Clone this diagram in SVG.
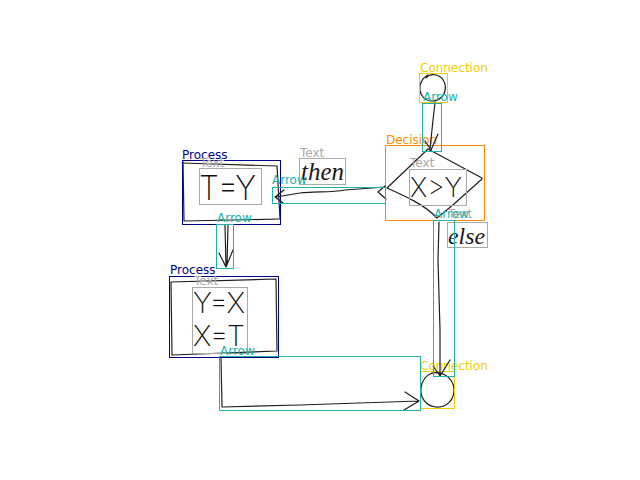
<svg xmlns="http://www.w3.org/2000/svg" width="640" height="480" viewBox="0 0 640 480">
  <style>
    .lbl { font-family: "DejaVu Sans", sans-serif; font-size: 12px; }
    .box { fill: none; stroke-width: 1; }
    .ink { fill: none; stroke: #1e1e1e; stroke-width: 1.2; stroke-linecap: round; stroke-linejoin: round; }
    .hand { font-family: "Inter", "DejaVu Sans", sans-serif; font-weight: 200; fill: #111; }
    .hand-i { font-family: "Liberation Serif", serif; font-style: italic; fill: #1a1a1a; }
    .proc { stroke: #000080; } .proc-t { fill: #000080; }
    .dec { stroke: #ff8c00; } .dec-t { fill: #ff8c00; }
    .con { stroke: #f2cd00; } .con-t { fill: #f2cd00; }
    .arr { stroke: #20b2aa; } .arr-t { fill: #20b2aa; }
    .txt { stroke: #a9a9a9; } .txt-t { fill: #a9a9a9; }
  </style>
  <rect width="640" height="480" fill="#ffffff"/>

  <!-- start connector circle -->
  <g id="connection-top">
    <path class="ink" d="M426,78 C431,72 442,74 445,84 C447,94 440,101 432,101 C424,101 419,94 420,86 C421,80 425,76 428,75"/>
    <rect class="box con" x="419.5" y="73.5" width="28" height="29"/>
    <text class="lbl con-t" x="420" y="72">Connection</text>
  </g>

  <!-- decision diamond -->
  <g id="decision">
    <path class="ink" d="M428,149 L482,178 M428,149 L387,188 M387,188 C405,196 425,205 437,218 M482,179 L454,204 L437,218"/>
    <rect class="box dec" x="385.5" y="145.5" width="99" height="75"/>
    <text class="lbl dec-t" x="386" y="144">Decision</text>
  </g>
  <g id="decision-text">
    <text class="hand" x="410" y="197" font-size="27" textLength="52" lengthAdjust="spacingAndGlyphs">X&gt;Y</text>
    <rect class="box txt" x="409.5" y="169.5" width="57" height="36"/>
    <text class="lbl txt-t" x="410" y="167">Text</text>
  </g>

  <!-- process T=Y -->
  <g id="process-1">
    <path class="ink" d="M182,163 L277,166 L280,218 M183,162 L184,221 L280,219"/>
    <rect class="box proc" x="182.5" y="160.5" width="98" height="64"/>
    <text class="lbl proc-t" x="182" y="159">Process</text>
  </g>
  <g id="process-1-text">
    <text class="hand" x="199" y="200" font-size="34" textLength="57" lengthAdjust="spacingAndGlyphs">T=Y</text>
    <rect class="box txt" x="199.5" y="168.5" width="62" height="36"/>
    <text class="lbl txt-t" x="200" y="167">Text</text>
  </g>

  <!-- process Y=X / X=T -->
  <g id="process-2">
    <path class="ink" d="M171,282 L276,279 L277,351 M171,282 L172,355 L277,351"/>
    <rect class="box proc" x="169.5" y="276.5" width="109" height="81"/>
    <text class="lbl proc-t" x="170" y="274">Process</text>
  </g>
  <g id="process-2-text">
    <text class="hand" x="193" y="313" font-size="28" textLength="52" lengthAdjust="spacingAndGlyphs">Y=X</text>
    <text class="hand" x="193" y="346" font-size="28" textLength="52" lengthAdjust="spacingAndGlyphs">X=T</text>
    <rect class="box txt" x="192.5" y="287.5" width="55" height="66"/>
    <text class="lbl txt-t" x="194" y="285">Text</text>
  </g>

  <!-- branch labels -->
  <g id="label-then">
    <text class="hand-i" x="301" y="180" font-size="25" textLength="43" lengthAdjust="spacingAndGlyphs">then</text>
    <rect class="box txt" x="299.5" y="158.5" width="46" height="26"/>
    <text class="lbl txt-t" x="300" y="157">Text</text>
  </g>
  <g id="label-else">
    <text class="hand-i" x="448" y="244" font-size="23" textLength="37" lengthAdjust="spacingAndGlyphs">else</text>
    <rect class="box txt" x="447.5" y="222.5" width="40" height="25"/>
    <text class="lbl txt-t" x="448" y="218">Text</text>
  </g>

  <!-- merge connector circle -->
  <g id="connection-bottom">
    <path class="ink" d="M430,374 C440,370 452,376 454,388 C455,400 446,408 436,407 C426,406 420,398 421,388 C422,380 427,375 432,373"/>
    <rect class="box con" x="420.5" y="371.5" width="34" height="37"/>
    <text class="lbl con-t" x="420" y="370">Connection</text>
  </g>

  <!-- flow arrows -->
  <g id="connectors">
    <g id="arrow-start-decision">
      <path class="ink" d="M435,103 L433,120 L430,149 M425,141 L431,150 L438,134"/>
      <rect class="box arr" x="422.5" y="103.5" width="19" height="48"/>
      <text class="lbl arr-t" x="423" y="101">Arrow</text>
    </g>
    <g id="arrow-then">
      <path class="ink" d="M385,187 L345,190 C330,193 315,191 300,193 L276,197 M284,190 L275,197 L283,203 M385,186 L378,192 L386,199"/>
      <rect class="box arr" x="272.5" y="187.5" width="113" height="16"/>
      <text class="lbl arr-t" x="272" y="184">Arrow</text>
    </g>
    <g id="arrow-process">
      <path class="ink" d="M225,225 L226,267 M228,225 L227,265 M219,253 L226,267 L233,250"/>
      <rect class="box arr" x="216.5" y="224.5" width="17" height="44"/>
      <text class="lbl arr-t" x="217" y="222">Arrow</text>
    </g>
    <g id="arrow-else">
      <path class="ink" d="M439,222 L438,260 L440,330 L440,375 M433,366 L440,376 L450,360"/>
      <rect class="box arr" x="433.5" y="220.5" width="21" height="156"/>
      <text class="lbl arr-t" x="434" y="218">Arrow</text>
    </g>
    <g id="arrow-merge">
      <path class="ink" d="M221,358 L222,407 L300,405 L419,401 M405,392 L419,401 L404,410"/>
      <rect class="box arr" x="219.5" y="356.5" width="201" height="54"/>
      <text class="lbl arr-t" x="220" y="355">Arrow</text>
    </g>
  </g>
</svg>
